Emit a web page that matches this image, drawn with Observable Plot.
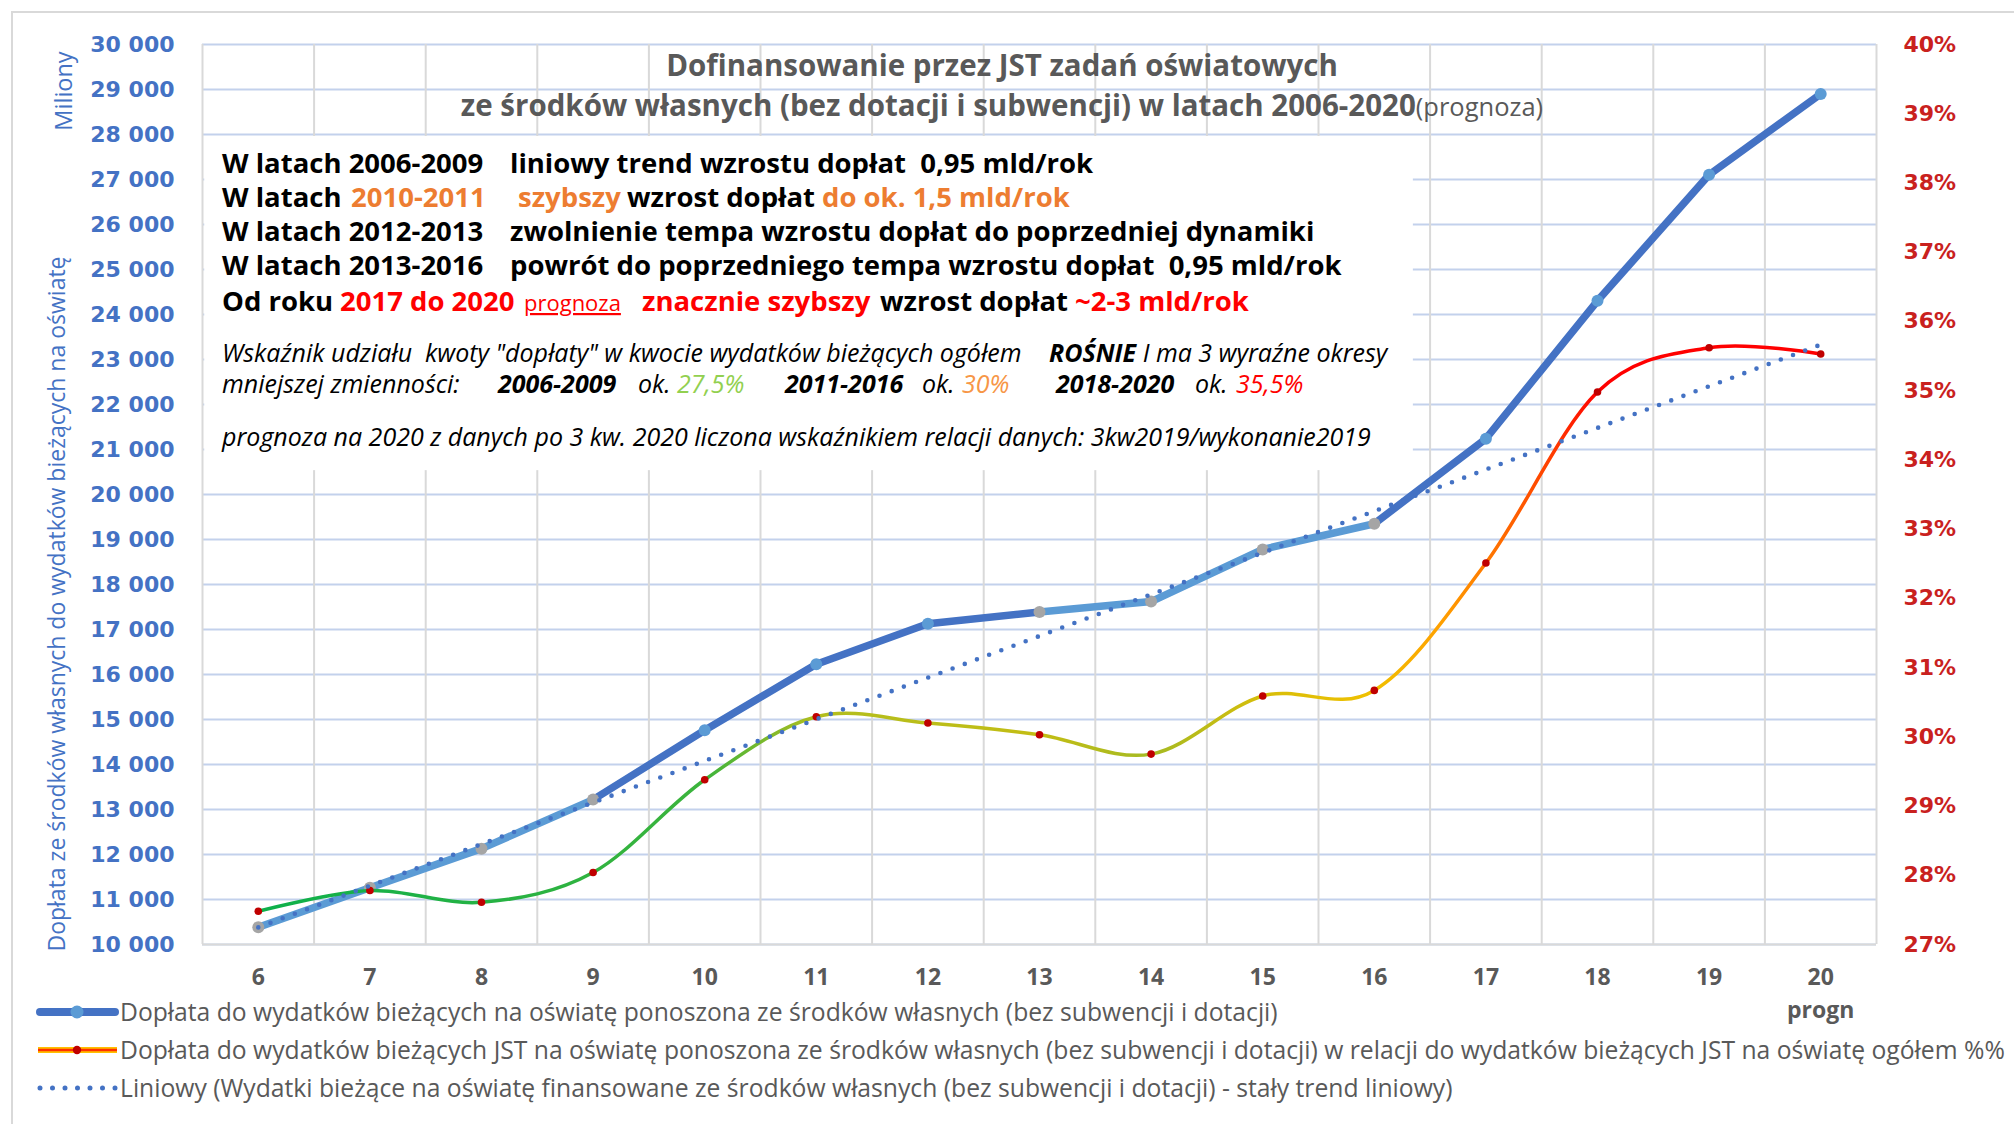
<!DOCTYPE html>
<html><head><meta charset="utf-8">
<script src="https://cdn.jsdelivr.net/npm/d3@7"></script>
<script src="https://cdn.jsdelivr.net/npm/@observablehq/plot@0.6"></script>
<style>
html,body{margin:0;padding:0;background:#fff;}
#chart{position:relative;width:2014px;height:1124px;overflow:hidden;}
#chart svg text{white-space:pre;}
</style></head><body><div id="chart"></div>
<script>
// ---------- data ----------
const years = [6, 7, 8, 9, 10, 11, 12, 13, 14, 15, 16, 17, 18, 19, 20];
const xLabels = ["6", "7", "8", "9", "10", "11", "12", "13", "14", "15", "16", "17", "18", "19", "20\nprogn"];
const doplata = [10385, 11260, 12130, 13220, 14760, 16230, 17130, 17390, 17620, 18780, 19350, 21240, 24305, 27105, 28900];
const udzial = [27.48, 27.78, 27.61, 28.04, 29.38, 30.29, 30.20, 30.03, 29.75, 30.59, 30.67, 32.51, 34.98, 35.62, 35.53];
const okres = ["A", "A", "A", "A", "B", "B", "B", "A", "A", "A", "A", "B", "B", "B", "B"];
const trendYears = [6, 20];
const trendValues = [10380, 23330];
const leftTicks = [10000, 11000, 12000, 13000, 14000, 15000, 16000, 17000, 18000, 19000, 20000,
  21000, 22000, 23000, 24000, 25000, 26000, 27000, 28000, 29000, 30000];
const pctTicks = [27, 28, 29, 30, 31, 32, 33, 34, 35, 36, 37, 38, 39, 40];
const legendLabels = [
  "Dopłata do wydatków bieżących na oświatę ponoszona ze środków własnych (bez subwencji i dotacji)",
  "Dopłata do wydatków bieżących JST na oświatę ponoszona ze środków własnych (bez subwencji i dotacji) w relacji do wydatków bieżących JST na oświatę ogółem %%",
  "Liniowy (Wydatki bieżące na oświatę finansowane ze środków własnych (bez subwencji i dotacji) - stały trend liniowy)"
];

// ---------- helpers ----------
const leftDomain = [leftTicks[0], leftTicks[leftTicks.length - 1]];
const pctDomain = [pctTicks[0], pctTicks[pctTicks.length - 1]];
const toLeft = p => leftDomain[0] + (p - pctDomain[0]) * (leftDomain[1] - leftDomain[0]) / (pctDomain[1] - pctDomain[0]);
const fromLeft = v => pctDomain[0] + (v - leftDomain[0]) * (pctDomain[1] - pctDomain[0]) / (leftDomain[1] - leftDomain[0]);
const fmt = d3.formatLocale({thousands: " ", grouping: [3], decimal: ",", currency: ["", ""]}).format(",d");

const rows = years.map((year, i) => ({year, label: xLabels[i], value: doplata[i], pct: udzial[i], okres: okres[i]}));
const segs = rows.slice(1).map((d, i) => ({
  x1: rows[i].year, y1: rows[i].value, x2: d.year, y2: d.value,
  tone: (rows[i].okres === "A" && d.okres === "A") ? "#5B9BD5" : "#4472C4"
}));
const trend = trendYears.map((year, i) => ({year, value: trendValues[i]}));
const bounds = years.map(y => y - 0.5).concat([years[years.length - 1] + 0.5]);

const DARK = "#4472C4", GRID_H = "#C3D1EC", GRID_V = "#D9D9D9", GRAYTXT = "#595959";
const TICKFONT = "'DejaVu Sans', sans-serif";
const gradStops = [[6, "#0DB04B"], [10, "#3CB43C"], [11, "#B2BE1E"], [13, "#C3BD14"], [14, "#A5BA23"],
  [15, "#D7BE0A"], [16, "#F0C000"], [16.6, "#FFA000"], [17, "#FF7A00"], [17.6, "#FF3C00"], [18, "#FF0000"], [20, "#FF0000"]];

const gradientMark = (index, scales) => {
  const defs = d3.create("svg:defs");
  const g = defs.append("linearGradient").attr("id", "pctGradient")
    .attr("gradientUnits", "userSpaceOnUse")
    .attr("x1", scales.x(years[0])).attr("x2", scales.x(years[years.length - 1]))
    .attr("y1", 0).attr("y2", 0);
  const span = years[years.length - 1] - years[0];
  gradStops.forEach(([c, col]) => g.append("stop").attr("offset", (c - years[0]) / span).attr("stop-color", col));
  return defs.node();
};

const plot = Plot.plot({
  width: 2014, height: 1124,
  marginLeft: 202, marginRight: 138, marginTop: 44, marginBottom: 180,
  x: {type: "linear", domain: [bounds[0], bounds[bounds.length - 1]]},
  y: {domain: leftDomain},
  color: {type: "identity"},
  style: {fontFamily: "'Open Sans', sans-serif", background: "white", overflow: "visible"},
  marks: [
    gradientMark,
    Plot.ruleY(leftTicks, {stroke: GRID_H, strokeWidth: 2}),
    Plot.ruleX(bounds, {stroke: GRID_V, strokeWidth: 2}),
    Plot.rect([0], {x1: () => 5.52, x2: () => 16.35, y1: () => 27955, y2: () => 20530, fill: "white"}),
    Plot.ruleY([leftDomain[0]], {stroke: GRID_V, strokeWidth: 2}),
    Plot.link(segs, {x1: "x1", y1: "y1", x2: "x2", y2: "y2", stroke: "tone", strokeWidth: 7.5, strokeLinecap: "round"}),
    Plot.dot(rows, {x: "year", y: "value", r: 6, fill: d => d.okres === "A" ? "#A5A5A5" : "#5B9BD5"}),
    Plot.line(rows, {x: "year", y: d => toLeft(d.pct), curve: "cardinal", stroke: "url(#pctGradient)", strokeWidth: 3.5}),
    Plot.dot(rows, {x: "year", y: d => toLeft(d.pct), r: 3.8, fill: "#C00000"}),
    Plot.line(trend, {x: "year", y: "value", stroke: DARK, strokeWidth: 4.6, strokeDasharray: "0 13", strokeLinecap: "round"}),
    Plot.axisY(leftTicks, {anchor: "left", tickSize: 0, tickPadding: 28, tickFormat: fmt, fontSize: 22, fontWeight: "bold", fontFamily: TICKFONT, color: DARK, label: null}),
    Plot.axisY(pctTicks.map(toLeft), {anchor: "right", tickSize: 0, tickPadding: 27, tickFormat: d => Math.round(fromLeft(d)) + "%", fontSize: 22, fontWeight: "bold", fontFamily: TICKFONT, color: "#C9211E", label: null}),
    Plot.axisX(years, {tickSize: 0, tickPadding: 18, tickFormat: d => xLabels[years.indexOf(d)], fontSize: 23, fontWeight: "bold", color: GRAYTXT, lineHeight: 1.4, label: null})
  ]
});
document.getElementById("chart").appendChild(plot);

// ---------- annotations ----------
const svg = d3.select(plot);
const ann = svg.append("g").attr("font-family", "'Open Sans', sans-serif").attr("text-anchor", "start");

ann.append("rect").attr("x", 12).attr("y", 12).attr("width", 2030).attr("height", 1130)
  .attr("fill", "none").attr("stroke", "#D9D9D9").attr("stroke-width", 2);

// axis titles
ann.append("text").attr("transform", "translate(65,604) rotate(-90)").attr("text-anchor", "middle")
  .attr("font-size", 23).attr("fill", DARK)
  .text("Dopłata ze środków własnych do wydatków bieżących na oświatę");
ann.append("text").attr("transform", "translate(72,91) rotate(-90)").attr("text-anchor", "middle")
  .attr("font-size", 23.5).attr("fill", DARK).text("Miliony");

// title
ann.append("text").attr("x", 1002).attr("y", 76).attr("text-anchor", "middle")
  .attr("font-size", 29.5).attr("font-weight", "bold").attr("fill", GRAYTXT)
  .text("Dofinansowanie przez JST zadań oświatowych");
const t2 = ann.append("text").attr("x", 1002).attr("y", 116).attr("text-anchor", "middle").attr("fill", GRAYTXT);
t2.append("tspan").attr("font-size", 29.5).attr("font-weight", "bold").text("ze środków własnych (bez dotacji i subwencji) w latach 2006-2020");
t2.append("tspan").attr("font-size", 25.5).text("(prognoza)");

function line(y, size, base, parts) {
  const t = ann.append("text").attr("y", y).attr("font-size", size);
  Object.entries(base).forEach(([k, v]) => t.attr(k, v));
  parts.forEach(p => {
    const s = t.append("tspan").text(p.t);
    if (p.x != null) s.attr("x", p.x);
    if (p.fill) s.attr("fill", p.fill);
    if (p.weight) s.attr("font-weight", p.weight);
    if (p.size) s.attr("font-size", p.size);
    if (p.deco) s.attr("text-decoration", p.deco);
  });
}
const ORANGE = "#ED7D31", RED = "#FF0000";
const boldBase = {"font-weight": "bold", fill: "#000"};
const BS = 27.5;
line(173, BS, boldBase, [{x: 222, t: "W latach 2006-2009"}, {x: 510, t: "liniowy trend wzrostu dopłat  0,95 mld/rok"}]);
line(207, BS, boldBase, [{x: 222, t: "W latach"}, {x: 351, t: "2010-2011", fill: ORANGE}, {x: 518, t: "szybszy", fill: ORANGE},
  {x: 627, t: "wzrost dopłat"}, {x: 822, t: "do ok. 1,5 mld/rok", fill: ORANGE}]);
line(241, BS, boldBase, [{x: 222, t: "W latach 2012-2013"}, {x: 510, t: "zwolnienie tempa wzrostu dopłat do poprzedniej dynamiki"}]);
line(275, BS, boldBase, [{x: 222, t: "W latach 2013-2016"}, {x: 510, t: "powrót do poprzedniego tempa wzrostu dopłat  0,95 mld/rok"}]);
line(311, BS, boldBase, [{x: 222, t: "Od roku"}, {x: 340, t: "2017 do 2020", fill: RED},
  {x: 524, t: "prognoza", fill: RED, weight: "normal", size: 22, deco: "underline"},
  {x: 642, t: "znacznie szybszy", fill: RED}, {x: 880, t: "wzrost dopłat"}, {x: 1075, t: "~2-3 mld/rok", fill: RED}]);

const itBase = {"font-style": "italic", fill: "#000"};
const IS = 25;
line(362, IS, itBase, [{x: 222, t: "Wskaźnik udziału  kwoty \"dopłaty\" w kwocie wydatków bieżących ogółem"},
  {x: 1049, t: "ROŚNIE", weight: "bold"}, {t: " I ma 3 wyraźne okresy"}]);
line(393, IS, itBase, [{x: 222, t: "mniejszej zmienności:"}, {x: 498, t: "2006-2009", weight: "bold"},
  {x: 638, t: "ok."}, {x: 677, t: "27,5%", fill: "#92D050"},
  {x: 785, t: "2011-2016", weight: "bold"}, {x: 922, t: "ok."}, {x: 962, t: "30%", fill: "#F79646"},
  {x: 1056, t: "2018-2020", weight: "bold"}, {x: 1195, t: "ok."}, {x: 1236, t: "35,5%", fill: RED}]);
line(446, IS, itBase, [{x: 222, t: "prognoza na 2020 z danych po 3 kw. 2020 liczona wskaźnikiem relacji danych: 3kw2019/wykonanie2019"}]);

// legend
const lg = ann.append("g");
const ly = [1012, 1050, 1088];
lg.append("line").attr("x1", 40).attr("x2", 115).attr("y1", ly[0]).attr("y2", ly[0])
  .attr("stroke", DARK).attr("stroke-width", 8).attr("stroke-linecap", "round");
lg.append("circle").attr("cx", 77).attr("cy", ly[0]).attr("r", 6.5).attr("fill", "#5B9BD5");
lg.append("line").attr("x1", 38).attr("x2", 117).attr("y1", ly[1]).attr("y2", ly[1])
  .attr("stroke", "#FFC000").attr("stroke-width", 6);
lg.append("line").attr("x1", 38).attr("x2", 117).attr("y1", ly[1]).attr("y2", ly[1])
  .attr("stroke", "#FF3000").attr("stroke-width", 2.5);
lg.append("circle").attr("cx", 77).attr("cy", ly[1]).attr("r", 4.2).attr("fill", "#C00000");
lg.append("line").attr("x1", 40).attr("x2", 117).attr("y1", ly[2]).attr("y2", ly[2])
  .attr("stroke", DARK).attr("stroke-width", 5).attr("stroke-dasharray", "0 12.5").attr("stroke-linecap", "round");
legendLabels.forEach((s, i) => {
  lg.append("text").attr("x", 120).attr("y", ly[i] + 8.5).attr("font-size", 24.7).attr("fill", GRAYTXT).text(s);
});
</script>
</body></html>
